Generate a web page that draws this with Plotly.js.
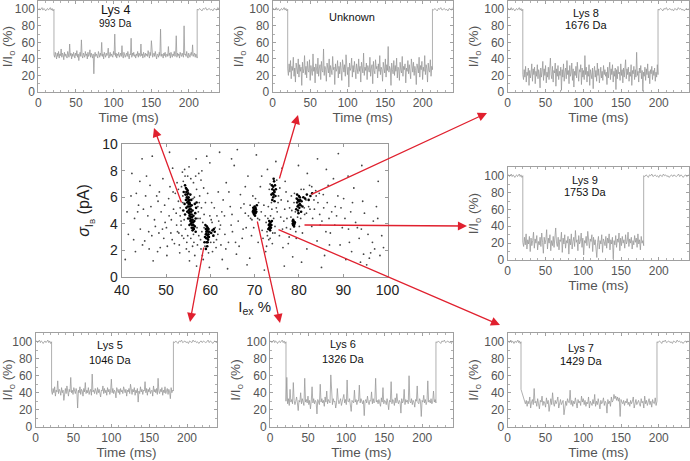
<!DOCTYPE html>
<html><head><meta charset="utf-8">
<script src="https://cdn.plot.ly/plotly-3.0.1.min.js"></script>
<style>html,body{margin:0;padding:0;background:#fff}#chart{width:690px;height:461px}</style>
</head><body><div id="chart"></div>
<script>
// ---------- scatter data (I_ex %, sigma pA) ----------
const bgPts=[[41.5,3.2],[42.3,7.8],[43.1,1.9],[43.8,5.4],[44.6,8.9],[45.2,2.7],[45.9,4.6],[46.4,6.9],[47.1,1.2],[47.6,3.8],[48.2,5.7],[48.7,2.2],[49.3,7.4],[49.8,4.1],[50.2,1.6],[50.6,5.9],[51.1,3.3],[51.5,8.2],[51.9,2.5],[52.3,4.8],[52.8,6.6],[53.1,1.8],[53.4,3.9],[53.7,7.9],[54.0,2.9],[52.6,3.4],[51.7,5.1],[50.9,6.8],[49.5,2.9],[48.9,4.9],[47.9,6.1],[46.8,3.1],[45.6,7.6],[44.2,3.6],[43.3,6.3],[57.1,2.4],[57.5,5.6],[57.9,7.3],[58.2,1.6],[58.6,4.7],[60.5,1.9],[60.9,5.2],[61.4,2.8],[61.8,6.4],[62.3,3.9],[62.7,1.3],[63.2,4.6],[63.6,7.1],[64.1,2.6],[64.5,5.3],[65.0,3.4],[65.4,8.4],[65.9,1.7],[66.3,4.2],[66.8,6.2],[67.2,2.9],[67.6,5.5],[68.1,3.7],[68.5,7.6],[68.9,1.4],[69.3,3.1],[69.6,6.1],[70.8,2.6],[71.3,6.8],[71.7,3.5],[72.1,5.4],[72.5,1.9],[72.9,8.1],[73.2,2.8],[75.1,4.9],[75.6,3.1],[76.0,5.8],[76.4,2.2],[76.9,7.2],[77.3,4.4],[77.8,3.0],[78.3,6.1],[78.6,1.5],[79.4,2.9],[80.8,3.3],[81.3,4.7],[81.8,2.1],[82.4,6.9],[82.9,3.8],[83.5,5.1],[84.1,2.7],[84.6,6.3],[85.2,4.2],[85.8,1.6],[86.4,5.6],[87.1,3.3],[87.8,7.4],[88.5,4.6],[89.3,2.4],[90.1,5.9],[91.2,3.6],[92.4,6.7],[93.6,2.9],[94.8,4.8],[96.2,1.8],[97.5,5.3],[98.7,3.1],[55.2,8.3],[56.8,8.9],[59.2,9.1],[62.1,9.4],[66.1,9.6],[70.4,9.2],[74.8,8.7],[79.9,8.4],[84.2,8.9],[88.9,9.3],[55.3,1.2],[56.9,0.8],[59.8,0.7],[63.9,0.6],[68.3,0.9],[72.2,0.5],[76.7,0.8],[80.6,1.1],[85.1,0.7],[90.6,1.3],[95.3,0.9],[54.6,2.1],[56.3,2.6],[57.4,3.1],[58.8,2.3],[60.2,4.3],[61.1,3.7],[62.6,4.9],[64.7,3.9],[66.5,2.3],[69.1,4.4],[71.1,4.3],[72.4,4.6],[73.9,5.1],[75.4,6.1],[76.6,4.2],[77.9,5.2],[79.2,4.9],[80.4,4.4],[81.6,5.8],[83.1,4.4],[84.8,3.9],[86.8,4.4],[88.2,5.3],[89.8,3.7],[92.8,4.1],[53.2,5.2],[53.8,6.1],[57.2,4.4],[58.1,3.4],[60.6,3.1],[61.5,4.6],[63.3,3.2],[67.9,4.8],[70.2,5.9],[73.6,4.6],[74.6,3.3],[77.1,6.4],[78.1,3.6],[82.2,5.3],[83.9,6.1],[85.6,5.2],[86.9,2.4],[91.7,4.9],[94.1,3.6],[96.8,4.2],[99.1,2.2],[42.9,4.4],[44.9,5.1],[46.2,2.1],[48.4,3.3],[50.1,3.7],[51.2,4.3],[52.1,6.3]];
const hazeLeftPts=[[53.5,6.8],[53.8,5.6],[54.1,4.3],[54.4,3.6],[54.9,3.1],[55.6,2.9],[56.2,3.2],[57.0,3.7],[57.3,4.9],[57.6,6.1],[56.9,6.6],[56.2,7.1],[55.6,7.4],[54.9,7.6],[53.9,7.2],[53.2,4.6],[52.8,5.7],[52.5,7.1],[53.6,3.1],[54.7,2.6],[56.0,2.3],[57.8,2.8],[58.3,4.1],[58.0,5.2],[57.4,7.8],[56.4,6.0],[57.7,4.4],[53.0,2.4],[52.4,3.9],[51.6,6.4],[54.2,8.1],[56.7,7.6],[58.5,6.7],[58.9,5.6],[60.1,2.6],[60.4,4.1],[61.3,2.2],[61.7,3.2],[59.6,1.8],[58.4,1.3],[60.8,2.6],[59.9,4.6],[58.6,3.7],[57.9,2.1],[56.5,1.6],[55.2,1.9],[62.1,3.6],[62.4,2.4],[61.9,4.2],[60.3,5.6],[59.4,6.3],[58.1,8.0],[57.2,5.3],[56.1,5.9],[54.3,7.6],[53.4,4.2],[52.9,3.3],[51.4,2.8],[50.7,4.6],[50.3,2.3],[49.7,5.4],[49.2,3.6],[48.5,6.4],[48.1,1.9],[47.4,4.3],[46.6,5.3],[46.1,3.4],[45.4,6.1],[44.7,2.4],[44.1,7.2],[43.6,4.9],[42.7,2.8],[42.1,6.1],[41.2,4.9],[40.8,1.3]];
const hazeRightPts=[[69.0,5.4],[69.4,4.3],[70.7,4.4],[70.9,5.6],[71.5,4.9],[71.9,2.9],[72.8,3.4],[72.6,4.1],[73.0,4.4],[74.1,3.3],[74.3,4.4],[74.6,3.8],[72.9,3.1],[73.5,2.9],[74.0,2.5],[72.7,2.3],[73.1,5.3],[73.8,5.6],[73.3,6.6],[73.5,7.0],[75.0,7.3],[75.3,5.6],[74.9,5.2],[75.7,6.7],[75.9,4.5],[76.3,3.6],[76.8,5.1],[77.5,5.7],[77.2,3.7],[77.6,2.5],[78.4,5.0],[78.2,4.5],[79.0,6.3],[78.9,5.6],[79.3,3.4],[79.7,4.5],[80.1,3.8],[80.5,6.6],[81.2,5.2],[81.1,6.6],[81.7,4.8],[82.5,5.1],[82.9,6.8],[83.4,5.8],[83.8,6.5],[84.3,5.6],[84.7,4.7],[85.5,6.2],[86.1,3.4],[86.6,6.9],[87.4,4.9],[88.1,3.9],[88.8,6.1],[89.5,5.2],[90.4,4.4],[91.4,2.6],[92.1,5.6],[93.2,3.7],[94.4,5.7],[95.6,3.2],[96.6,2.6],[97.8,4.4],[98.3,1.6],[95.9,1.4],[93.9,1.1],[91.9,1.9],[94.6,1.7],[97.1,2.1],[69.8,3.7],[68.6,4.6],[67.4,3.6],[66.9,5.2],[65.7,2.6],[64.9,4.7],[64.2,6.4],[63.5,2.1],[62.9,5.8],[67.9,6.8],[71.6,7.6],[76.2,8.2],[81.9,7.8],[86.2,8.1],[91.1,7.6],[94.2,8.4],[97.9,7.2],[46.9,9.1],[50.8,9.4],[59.9,8.6],[64.8,8.9]];
const lys4Pts=[[54.3,6.9],[54.5,6.7],[54.7,6.6],[54.6,6.4],[54.9,6.5],[54.8,6.2],[55.0,6.3],[54.7,6.0],[55.1,6.0],[54.9,5.9],[55.2,5.8],[55.0,5.7],[55.3,5.6],[54.8,5.6],[55.1,5.5],[55.4,5.5],[55.2,5.3],[55.5,5.3],[54.9,5.3],[55.3,5.1],[55.6,5.1],[55.1,5.0],[55.4,4.9],[55.7,4.9],[55.2,4.8],[55.5,4.7],[55.8,4.7],[55.3,4.6],[55.6,4.5],[55.9,4.5],[55.4,4.4],[55.7,4.3],[56.0,4.3],[55.5,4.2],[55.8,4.1],[56.1,4.1],[55.6,4.0],[55.9,3.9],[56.2,3.9],[55.8,3.7],[56.1,3.7],[56.0,3.5],[56.3,3.6],[54.5,5.8],[54.6,5.2],[54.4,6.2],[55.8,5.4],[56.0,5.0],[56.2,4.6],[56.4,4.2],[56.6,4.8],[56.8,5.2],[56.7,4.4],[56.9,5.6],[56.5,5.5],[54.2,5.5],[54.0,6.4],[55.5,6.2],[55.7,5.8],[53.9,5.0],[54.3,4.7],[55.0,4.4],[56.5,3.8],[56.7,3.4],[55.3,3.9],[54.8,4.9]];
const lys5Pts=[[59.0,3.6],[59.2,3.8],[59.4,3.7],[59.1,3.4],[59.3,3.5],[59.5,3.4],[59.0,3.2],[59.2,3.2],[59.4,3.1],[59.6,3.2],[59.1,2.9],[59.3,2.9],[59.5,2.8],[59.2,2.6],[59.4,2.6],[59.7,3.0],[58.8,3.0],[58.9,3.9],[59.6,3.6],[59.8,3.4],[60.2,3.3],[60.5,3.5],[60.8,3.6],[61.0,3.4],[60.7,3.1],[59.3,2.3],[59.0,2.1],[58.7,2.6]];
const lys6Pts=[[69.7,5.0],[69.9,5.1],[70.1,5.0],[69.8,4.8],[70.0,4.9],[70.2,4.8],[69.9,4.7],[70.1,4.6],[70.3,5.1],[69.7,5.2],[70.0,5.3],[70.4,4.9],[69.6,4.9],[70.2,5.2],[70.5,5.4]];
const lys7Pts=[[73.2,3.9],[73.4,4.0],[73.6,3.9],[73.3,3.7],[73.5,3.8],[73.7,3.7],[73.4,3.6],[73.6,4.1],[73.8,3.9],[73.3,4.2],[73.5,3.5],[73.9,4.2],[73.1,3.6]];
const unkPts=[[74.0,6.6],[74.2,6.8],[74.4,6.5],[74.1,6.3],[74.3,6.2],[74.5,6.4],[74.2,6.0],[74.6,6.9],[74.4,7.2],[73.9,6.9],[74.7,6.1],[74.0,5.8],[74.5,5.7],[74.8,6.6],[73.8,6.2],[74.3,7.4]];
const lys8Pts=[[79.6,5.6],[79.8,5.8],[80.0,5.7],[80.2,5.5],[79.7,5.3],[79.9,5.4],[80.1,5.2],[80.3,5.8],[79.5,5.9],[80.4,5.4],[79.8,5.0],[80.0,6.1],[80.2,6.0],[79.6,6.2],[80.6,5.7],[80.8,5.3],[81.0,6.0],[81.4,5.9],[81.8,6.2],[82.2,5.8],[82.6,6.1],[83.0,6.3],[79.4,5.1],[80.5,4.9],[79.9,4.8]];
const lys9Pts=[[78.6,4.0],[78.8,4.1],[79.0,4.0],[78.7,3.9],[78.9,3.9],[78.8,4.2],[79.1,4.1],[78.6,4.2],[78.9,3.8],[78.7,4.3]];

// ---------- current traces (I/Io %) ----------
const preBase=[100,101,99,100,102,99,101,100,98,100,101,99,100,102,99,101,98,100];
const postBase=[100,99,101,100,98,101,100,102,99,100,101,99,100,98,101,100,99,102,100,101,99,100,98,100,101,99,101,100,99,100,102,99,101,100,98,100,101,99,100,101];
const lys4Ev=[45,42,48,44,40,47,43,49,41,46,44,52,42,47,45,39,48,43,46,44,41,49,45,42,58,44,47,40,46,43,48,45,41,47,44,50,42,46,38,45,48,43,63,44,41,47,45,42,49,44,46,40,48,43,45,51,42,47,44,41,46,22,45,48,43,46,44,41,49,45,42,47,44,60,43,46,40,48,45,42,47,44,46,53,41,45,48,43,46,44,42,49,45,70,43,47,41,46,44,48,42,45,47,43,56,44,41,48,46,42,45,47,43,49,44,40,46,45,65,42,47,44,48,43,45,41,46,44,49,42,47,45,43,58,44,46,41,48,45,42,47,44,46,43,50,45,41,48,44,62,46,42,45,47,43,49,44,40,46,45,42,48,44,76,43,46,45,41,47,44,48,42,45,46,43,55,44,47,41,48,45,42,46,44,49,43,45,68,42,47,44,46,41,48,45,43,47,44,42,80,45,46,43,49,44,41,47,45,42,46,48,44,57,43,45,47,42,46,44,41];
const unkEv=[28,20,34,24,38,16,31,26,42,19,29,12,35,27,22,40,18,33,25,30,8,36,23,28,44,21,31,17,37,26,24,39,14,32,27,20,46,25,30,11,34,28,22,41,19,29,33,15,37,26,24,52,20,31,27,13,35,29,23,40,18,32,26,21,43,27,30,9,34,25,28,38,17,31,22,36,26,14,39,28,24,33,19,45,27,21,30,6,35,26,29,41,18,32,24,37,27,16,34,29,22,40,25,31,12,36,28,23,47,20,30,26,35,15,32,27,24,42,19,29,33,10,37,26,22,39,28,31,17,34,25,44,21,30,27,13,36,29,23,40,18,33,26,55,24,31,28,8,35,27,22,38,20,32,25,41,17,30,28,14,36,26,23,43,19,31,27,34,11,29,25,38,22,33,27,16,40,28,24,36,20,31,26,9,34,29,23,42,18,32,27,37,15,30,25,44,21,33,28,12,35,26,24,39,19,31,27];
const lys8Ev=[21,15,27,18,31,12,24,20,29,8,26,17,23,34,13,28,21,30,10,25,19,33,16,27,22,5,29,18,25,37,14,28,20,32,11,24,18,30,15,27,41,21,16,31,12,26,23,35,7,28,19,32,15,25,20,30,2,27,18,34,13,24,29,16,38,21,26,10,32,19,23,35,14,28,6,25,20,31,17,36,22,13,27,24,33,9,29,18,26,15,44,21,30,12,25,19,33,8,27,22,16,29,4,24,31,18,26,13,35,20,28,11,23,30,17,25,14,32,21,27,19,24,9,30,17,26,36,15,28,21,33,12,25,19,29,3,27,16,31,22,24,14,34,20,27,11,29,18,25,39,16,28,21,30,13,24,19,33,8,26,22,31,15,27,18,48,20,25,12,29,23,32,16,26,1,24,19,30,14,28,21,34,17,25,10,27,22,31,15,26,20,29,13,24,18,33,21];
const lys9Ev=[21,16,27,18,31,13,24,19,28,10,26,17,23,33,14,25,20,29,12,22,18,27,16,32,21,8,27,19,24,36,13,26,20,30,11,23,17,28,15,25,38,20,16,27,12,24,22,33,9,26,19,30,14,23,20,28,7,25,18,31,13,22,27,16,35,21,24,11,29,19,22,32,15,26,6,23,20,28,17,34,21,14,25,22,30,10,27,18,24,16,3,21,28,13,23,19,30,9,25,22,17,28,14,26,20,31,12,24,19,27,1,23,18,29,15,25,21,32,11,26,17,28,20,24,14,30,19,22,33,16,25,20,27,13,23,18,29,21,26,15,31,19,24,12,28,20,23,17];
const lys5Ev=[42,38,45,40,47,36,43,41,54,39,44,42,37,46,40,43,31,41,45,39,48,42,36,44,41,58,40,43,38,46,42,39,45,41,22,43,40,47,38,44,42,36,45,41,52,39,43,40,46,38,42,44,37,62,41,43,39,45,42,38,46,40,44,41,35,43,42,48,39,45,40,43,37,46,41,44,38,42,56,40,45,39,43,41,34,46,42,40,44,38,45,41,43,39,47,42,40,44,36,43,41,45,39,50,42,38,44,41,46,37,43,40,45,29,42,39,47,41,44,38,43,42,53,40,45,37,44,41,46,39,42,43,36,48,41,44,40,45,38,57,42,39,44,41,46,37,43,40,47,39,42,45,38,44,41,33,46,40,43,42];
const lys6Ev=[30,58,27,33,25,44,29,32,27,52,31,26,30,35,28,19,31,29,40,27,33,30,25,57,29,32,28,36,26,31,21,30,47,28,33,27,31,29,15,32,30,26,50,29,33,28,31,24,35,29,42,27,32,30,28,61,31,26,33,29,30,22,28,45,32,27,30,33,25,29,31,38,28,32,26,55,30,29,33,27,18,31,30,28,43,29,32,26,31,30,49,28,33,29,27,31,13,30,32,28,36,29,26,31,30,41,27,33,28,30,57,29,31,27,32,28,24,34,29,46,27,31,30,26,33,28,20,31,29,53,27,32,30,25,34,28,39,30,27,31,29,16,33,28,30,44,26,32,29,31,27,60,30,28,33,26,31,29,23,32,30,48,28,27,33,30,12,31,29,37,28,32,26,30,54,29,31,28,33,27,30,42,29,32,28];
const lys7Ev=[44,40,36,33,30,27,31,24,30,27,35,22,29,32,26,45,28,30,24,33,27,21,31,29,36,25,30,28,23,34,27,31,18,29,33,26,40,28,24,31,27,30,35,22,29,32,26,28,31,14,27,30,25,33,29,28,43,26,31,24,30,27,34,29,22,32,28,30,25,36,29,33,26,31,24,29,27,35,22,30,28,25,32,27,38,24,30,26,33,28,21,31,27,29,34,25,30,28,16,32,27,30,24,35,29,31,38,33,36,31,35,30,34,12,32,29,27,31,25,30,28,33,26,29,24,31,27,30,35,22,28,32,26,29,31,27,24,33,28,30,22,36,27,31,25,29,33,26,30,23,32,28,27,34,25,30];
const panelNames=['Lys 4','Unknown','Lys 8','Lys 9','Lys 5','Lys 6','Lys 7'];
const panelMasses=['993 Da','','1676 Da','1753 Da','1046 Da','1326 Da','1429 Da'];
const eventStart=[20.8,20,20,20,21,21,17.6];   // ms
const eventEnd=[211,213,199,180,182,218,197.6]; // ms
const eventVals=[lys4Ev,unkEv,lys8Ev,lys9Ev,lys5Ev,lys6Ev,lys7Ev];
const timeTicks=[0,50,100,150,200];
const currentTicks=[0,20,40,60,80,100];

// ---------- layout geometry (pixels) ----------
const W=690,H=461;
const fx=p=>p/W, fy=p=>1-p/H;
const boxes=[[38.3,219,1,92],[272.7,452.7,1,92],[507.7,689,1,92],[507.7,689,167.3,260],[35.7,217.3,333.3,426.7],[270,452.7,333.3,426.7],[507.7,689,333.3,426.7]];
const labelPos=[[115,10,24],[352,17,null],[586,13,25],[585,180,192],[110,345,360],[343,344,359],[581,348,361]];
const scatterBox=[121.7,387.5,144.3,276.7];
const arrows=[[182,204,154,128],[279,180,298,115],[310,195,487,113],[303,225,467,226],[277,229,500,325],[257,220,280,323],[204,246,190,322]];

const FONT='Liberation Sans, Arial, sans-serif';
const data=[], annotations=[];
const layout={width:W,height:H,margin:{l:0,r:0,t:0,b:0},showlegend:false,paper_bgcolor:'#fff',plot_bgcolor:'#fff',font:{family:FONT}};

function sc(pts,size,color){return {type:'scatter',mode:'markers',x:pts.map(p=>p[0]),y:pts.map(p=>p[1]),xaxis:'x',yaxis:'y',marker:{color:color,size:size,line:{width:0}},hoverinfo:'skip'};}
data.push(sc(bgPts,1.8,'#444'));
data.push(sc(hazeLeftPts,1.8,'#444'));
data.push(sc(hazeRightPts,1.8,'#444'));
[lys4Pts,lys5Pts,lys6Pts,lys7Pts,unkPts,lys8Pts,lys9Pts].forEach(p=>data.push(sc(p,2.6,'#000')));

layout.xaxis={domain:[fx(scatterBox[0]),fx(scatterBox[1])],anchor:'y',range:[40,100],dtick:10,showline:true,mirror:'ticks',linecolor:'#999',ticks:'inside',ticklen:3,tickcolor:'#999',showgrid:false,zeroline:false,tickfont:{size:14,color:'#222'},title:{text:'I<sub>ex</sub> %',font:{size:15,color:'#222'},standoff:2}};
layout.yaxis={domain:[fy(scatterBox[3]),fy(scatterBox[2])],anchor:'x',range:[0,10],dtick:2,showline:true,mirror:'ticks',linecolor:'#999',ticks:'inside',ticklen:3,tickcolor:'#999',showgrid:false,zeroline:false,tickfont:{size:14,color:'#222'},title:{text:'<i>σ</i><sub>I<sub>B</sub></sub> (pA)',font:{size:16,color:'#222'},standoff:8}};

for(let k=0;k<7;k++){
  const n=k+2, xa='xaxis'+n, ya='yaxis'+n;
  const t0=eventStart[k], t1=eventEnd[k], ev=eventVals[k];
  const post=postBase.slice(0, Math.max(12, Math.round((240-t1)/1.5)));
  const x=[],y=[];
  preBase.forEach((v,i)=>{x.push(t0*i/(preBase.length-1));y.push(v);});
  ev.forEach((v,i)=>{x.push(t0+(t1-t0)*i/(ev.length-1));y.push(v);});
  post.forEach((v,i)=>{x.push(t1+(240-t1)*i/(post.length-1));y.push(v);});
  data.push({type:'scatter',mode:'lines',x:x,y:y,xaxis:'x'+n,yaxis:'y'+n,line:{color:'#959595',width:0.75},hoverinfo:'skip'});
  const b=boxes[k];
  const common={showline:true,mirror:'ticks',linecolor:'#a0a0a0',linewidth:1,ticks:'inside',ticklen:3,tickcolor:'#a0a0a0',showgrid:false,zeroline:false,tickfont:{size:12,color:'#555'}};
  layout[xa]=Object.assign({},common,{domain:[fx(b[0]),fx(b[1])],anchor:'y'+n,range:[0,240],tickvals:timeTicks,minor:{ticks:'inside',ticklen:2,dtick:10,tickcolor:'#b0b0b0'},title:{text:'Time (ms)',font:{size:13.5,color:'#555'},standoff:3}});
  layout[ya]=Object.assign({},common,{domain:[fy(b[3]),fy(b[2])],anchor:'x'+n,range:[0,110],tickvals:currentTicks,minor:{ticks:'inside',ticklen:2,dtick:10,tickcolor:'#b0b0b0'},title:{text:'I/I<sub>o</sub> (%)',font:{size:13.5,color:'#555'},standoff:2}});
  const lp=labelPos[k];
  annotations.push({xref:'paper',yref:'paper',x:fx(lp[0]),y:fy(lp[1]),text:panelNames[k],showarrow:false,font:{size:k===0?12.5:11,color:'#111'},xanchor:'center',yanchor:'middle'});
  if(panelMasses[k]) annotations.push({xref:'paper',yref:'paper',x:fx(lp[0]),y:fy(lp[2]),text:panelMasses[k],showarrow:false,font:{size:k===0?10:11,color:'#111'},xanchor:'center',yanchor:'middle'});
}
arrows.forEach(a=>annotations.push({xref:'paper',yref:'paper',x:fx(a[2]),y:fy(a[3]),ax:a[0]-a[2],ay:a[1]-a[3],text:'',showarrow:true,arrowhead:2,arrowsize:1.4,arrowwidth:1.3,arrowcolor:'#e0202e',standoff:0,startstandoff:0}));
layout.annotations=annotations;
Plotly.newPlot('chart',data,layout,{displayModeBar:false,staticPlot:true});
</script></body></html>
